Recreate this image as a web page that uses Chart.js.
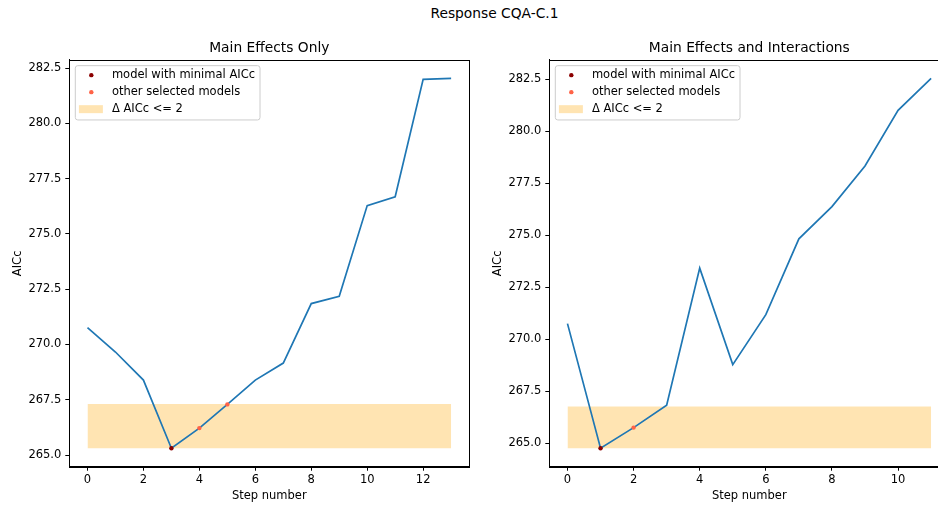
<!DOCTYPE html>
<html>
<head>
<meta charset="utf-8">
<script src="https://cdn.jsdelivr.net/npm/chart.js@4.4.1/dist/chart.umd.min.js"></script>
<style>
  html, body { margin: 0; padding: 0; background: #fff; overflow: hidden; }
  body { width: 938px; height: 506px; position: relative; }
  canvas { position: absolute; top: 0; }
  #left { left: 0; }
  #right { left: 480px; }
  #suptitle {
    position: absolute; top: 4.5px; left: 494.5px; transform: translateX(-50%);
    font: 13.8px "DejaVu Sans", sans-serif; line-height: 16px; white-space: nowrap; color: #000;
  }
</style>
</head>
<body>
<div id="suptitle">Response CQA-C.1</div>
<canvas id="left" width="480" height="506"></canvas>
<canvas id="right" width="480" height="506"></canvas>
<script>
// data
const stepsLeft = [0, 1, 2, 3, 4, 5, 6, 7, 8, 9, 10, 11, 12, 13];
const aiccLeft = [270.76, 269.66, 268.39, 265.31, 266.22, 267.29, 268.39, 269.16, 271.85, 272.18, 276.28, 276.68, 281.99, 282.03];
const minLeft = 3;
const otherLeft = [4, 5];

const stepsRight = [0, 1, 2, 3, 4, 5, 6, 7, 8, 9, 10, 11];
const aiccRight = [270.74, 264.75, 265.74, 266.82, 273.41, 268.77, 271.17, 274.82, 276.37, 278.32, 281.00, 282.53];
const minRight = 1;
const otherRight = [2];

const xTicksLeft = [0, 2, 4, 6, 8, 10, 12];
const xTicksRight = [0, 2, 4, 6, 8, 10];
const yTicks = [265.0, 267.5, 270.0, 272.5, 275.0, 277.5, 280.0, 282.5];
const legendLabels = ["model with minimal AICc", "other selected models", "\u0394 AICc <= 2"];

const lineColor = "#1f77b4";
const minColor = "#8b0000";
const otherColor = "#ff6347";
const bandColor = "rgba(255,165,0,0.3)";
const FONT = '"DejaVu Sans", sans-serif';

Chart.defaults.font.family = FONT;
Chart.defaults.color = "#000";

// matplotlib style 5% margins
function pad5(lo, hi) {
  const m = (hi - lo) * 0.05;
  return [lo - m, hi + m];
}

const frame = {
  id: "frame",
  afterDraw(chart) {
    const { ctx, chartArea: a } = chart;
    ctx.save();
    ctx.strokeStyle = "#000";
    ctx.lineWidth = 1;
    ctx.strokeRect(Math.round(a.left) + 0.5, Math.round(a.top) + 0.5,
      Math.round(a.right - a.left), Math.round(a.bottom - a.top));
    ctx.restore();
  }
};

const legendBox = {
  id: "legendBox",
  afterDraw(chart) {
    const { ctx, chartArea: a } = chart;
    ctx.save();
    ctx.font = "11.5px " + FONT;
    const tw = Math.max(...legendLabels.map(t => ctx.measureText(t).width));
    const x = a.left + 6, y = a.top + 5.7, w = 36.6 + tw + 5, h = 54.3;
    ctx.beginPath();
    ctx.roundRect(x, y, w, h, 2.5);
    ctx.fillStyle = "rgba(255,255,255,0.8)";
    ctx.fill();
    ctx.strokeStyle = "#cccccc";
    ctx.lineWidth = 1;
    ctx.stroke();
    ctx.textBaseline = "middle";
    legendLabels.forEach((t, i) => {
      const cy = y + 9.5 + i * 17;
      if (i < 2) {
        ctx.beginPath();
        ctx.arc(x + 16, cy, 2.2, 0, Math.PI * 2);
        ctx.fillStyle = i ? otherColor : minColor;
        ctx.fill();
      } else {
        ctx.fillStyle = bandColor;
        ctx.fillRect(x + 3.6, cy - 4, 24, 8);
      }
      ctx.fillStyle = "#000";
      ctx.fillText(t, x + 36.6, cy);
    });
    ctx.restore();
  }
};

function makeChart(id, title, steps, vals, minIdx, otherIdx, xTicks) {
  const lo = vals[minIdx];
  const hi = lo + 2;
  const last = steps.length - 1;
  const [xMin, xMax] = pad5(steps[0], steps[last]);
  const [yMin, yMax] = pad5(Math.min(...vals), Math.max(...vals));

  return new Chart(document.getElementById(id), {
    type: "line",
    data: {
      datasets: [
        {
          label: "band",
          data: [{ x: steps[0], y: hi }, { x: steps[last], y: hi }],
          fill: { value: lo },
          backgroundColor: bandColor,
          borderWidth: 0,
          pointRadius: 0,
          order: 3
        },
        {
          label: "AICc",
          data: steps.map((s, i) => ({ x: s, y: vals[i] })),
          borderColor: lineColor,
          borderWidth: 1.7,
          pointRadius: 0,
          tension: 0,
          fill: false,
          order: 2
        },
        {
          type: "scatter",
          label: "other",
          data: otherIdx.map(i => ({ x: steps[i], y: vals[i] })),
          backgroundColor: otherColor,
          borderWidth: 0,
          pointRadius: 2.2,
          order: 1
        },
        {
          type: "scatter",
          label: "min",
          data: [{ x: steps[minIdx], y: vals[minIdx] }],
          backgroundColor: minColor,
          borderWidth: 0,
          pointRadius: 2.2,
          order: 0
        }
      ]
    },
    options: {
      responsive: false,
      animation: false,
      events: [],
      layout: { padding: { left: 0, right: 10.7, top: 0, bottom: 0 } },
      plugins: {
        legend: { display: false },
        tooltip: { enabled: false },
        title: {
          display: true,
          text: title,
          fullSize: false,
          color: "#000",
          font: { size: 13.8, weight: "normal" },
          padding: { top: 40, bottom: 3.4 }
        }
      },
      scales: {
        x: {
          type: "linear",
          min: xMin,
          max: xMax,
          afterBuildTicks: s => { s.ticks = xTicks.map(v => ({ value: v })); },
          afterFit: s => { s.height = 39.3; },
          grid: { drawOnChartArea: false, tickLength: 4, color: "#000" },
          border: { color: "#000" },
          ticks: { padding: 2.5, autoSkip: false, maxRotation: 0, font: { size: 11.5 }, callback: v => String(v) },
          title: { display: true, text: "Step number", font: { size: 11.5 }, padding: { top: 0, bottom: 3.1 } }
        },
        y: {
          min: yMin,
          max: yMax,
          afterBuildTicks: s => { s.ticks = yTicks.map(v => ({ value: v })); },
          afterFit: s => { s.width = 69.3; },
          grid: { drawOnChartArea: false, tickLength: 4, color: "#000" },
          border: { color: "#000" },
          ticks: { padding: 4, autoSkip: false, font: { size: 11.5 }, callback: v => v.toFixed(1) },
          title: { display: true, text: "AICc", font: { size: 11.5 }, padding: { top: 11.5, bottom: 0 } }
        }
      }
    },
    plugins: [frame, legendBox]
  });
}

makeChart("left", "Main Effects Only", stepsLeft, aiccLeft, minLeft, otherLeft, xTicksLeft);
makeChart("right", "Main Effects and Interactions", stepsRight, aiccRight, minRight, otherRight, xTicksRight);
</script>
</body>
</html>
